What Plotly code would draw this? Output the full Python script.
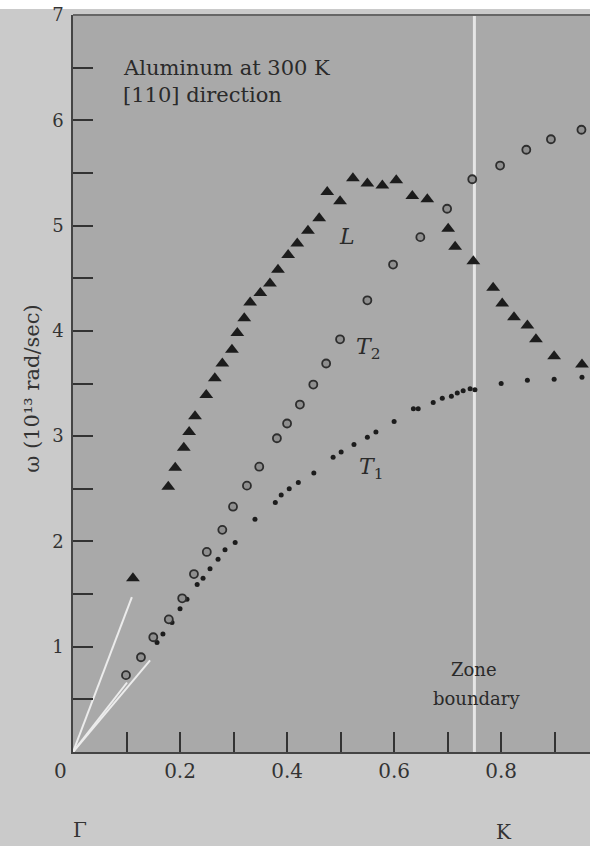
import plotly.graph_objects as go

# ---- data (q in units of 2π/a, ω in 10^13 rad/s) ----
L_q = [0.112, 0.178, 0.191, 0.207, 0.217, 0.228, 0.249, 0.265, 0.279, 0.297, 0.307, 0.320,
       0.331, 0.350, 0.368, 0.383, 0.402, 0.419, 0.439, 0.460, 0.475, 0.499, 0.523, 0.550,
       0.578, 0.604, 0.634, 0.662, 0.701, 0.714, 0.748, 0.785, 0.802, 0.824, 0.849, 0.865,
       0.899, 0.951]
L_w = [1.65, 2.52, 2.70, 2.89, 3.04, 3.19, 3.39, 3.55, 3.69, 3.82, 3.98, 4.12,
       4.27, 4.36, 4.45, 4.58, 4.72, 4.83, 4.95, 5.07, 5.32, 5.23, 5.45, 5.40,
       5.38, 5.43, 5.28, 5.25, 4.97, 4.80, 4.66, 4.41, 4.26, 4.13, 4.05, 3.92,
       3.76, 3.68]

T2_q = [0.099, 0.127, 0.150, 0.179, 0.204, 0.226, 0.250, 0.279, 0.299, 0.325, 0.348, 0.381,
        0.400, 0.424, 0.449, 0.473, 0.499, 0.550, 0.598, 0.649, 0.699, 0.746, 0.798, 0.847,
        0.893, 0.950]
T2_w = [0.73, 0.90, 1.09, 1.26, 1.46, 1.69, 1.90, 2.11, 2.33, 2.53, 2.71, 2.98,
        3.12, 3.30, 3.49, 3.69, 3.92, 4.29, 4.63, 4.89, 5.16, 5.44, 5.57, 5.72,
        5.82, 5.91]

T1_q = [0.157, 0.168, 0.185, 0.200, 0.213, 0.232, 0.243, 0.256, 0.271, 0.284, 0.303, 0.340,
        0.378, 0.389, 0.404, 0.421, 0.450, 0.486, 0.501, 0.525, 0.550, 0.566, 0.600, 0.636,
        0.645, 0.673, 0.690, 0.707, 0.718, 0.729, 0.742, 0.751, 0.800, 0.849, 0.899, 0.951]
T1_w = [1.04, 1.12, 1.23, 1.36, 1.45, 1.59, 1.65, 1.74, 1.83, 1.92, 1.99, 2.21,
        2.37, 2.44, 2.50, 2.56, 2.65, 2.80, 2.85, 2.92, 2.99, 3.04, 3.14, 3.26,
        3.26, 3.32, 3.36, 3.38, 3.41, 3.43, 3.45, 3.44, 3.50, 3.53, 3.54, 3.56]

# sound-velocity guide lines from the origin
sound_L_q = [0.0, 0.110]
sound_L_w = [0.0, 1.47]
sound_T_q = [0.0, 0.144]
sound_T_w = [0.0, 0.87]
sound_T2_q = [0.0, 0.101]
sound_T2_w = [0.0, 0.66]

zone_boundary = 0.75
x_ticks = [0.2, 0.4, 0.6, 0.8]
x_tick_labels = ["0.2", "0.4", "0.6", "0.8"]
y_ticks = [1, 2, 3, 4, 5, 6, 7]
y_tick_labels = ["1", "2", "3", "4", "5", "6", "7"]

SERIF = "DejaVu Serif, Liberation Serif, serif"
INK = "#1c1c1c"
TXT = "#2a2a2a"
PAPER = "#cacaca"
PLOT = "#a9a9a9"

fig = go.Figure()

for qs, ws in [(sound_L_q, sound_L_w), (sound_T_q, sound_T_w), (sound_T2_q, sound_T2_w)]:
    fig.add_trace(go.Scatter(x=qs, y=ws, mode="lines",
                             line=dict(color="#ececec", width=2), hoverinfo="skip",
                             showlegend=False))

fig.add_trace(go.Scatter(x=[zone_boundary, zone_boundary], y=[0, 7], mode="lines",
                         line=dict(color="#e6e6e6", width=3), showlegend=False,
                         hoverinfo="skip"))

fig.add_trace(go.Scatter(x=T1_q, y=T1_w, mode="markers", name="T1",
                         marker=dict(symbol="circle", size=5, color=INK),
                         showlegend=False))
fig.add_trace(go.Scatter(x=T2_q, y=T2_w, mode="markers", name="T2",
                         marker=dict(symbol="circle", size=8, color="#8f8f8f",
                                     line=dict(width=1.8, color="#2e2e2e")),
                         showlegend=False))
fig.add_trace(go.Scatter(x=L_q, y=L_w, mode="markers", name="L",
                         marker=dict(symbol="triangle-up", size=12, color=INK),
                         showlegend=False))

ann = [
    dict(x=0.09, y=6.50, text="Aluminum at 300 K", xanchor="left", yanchor="middle",
         showarrow=False, font=dict(family=SERIF, size=21, color=TXT)),
    dict(x=0.09, y=6.24, text="[110] direction", xanchor="left", yanchor="middle",
         showarrow=False, font=dict(family=SERIF, size=21, color=TXT)),
    dict(x=0.512, y=4.90, text="<i>L</i>", showarrow=False,
         font=dict(family=SERIF, size=22, color=TXT)),
    dict(x=0.552, y=3.83, text="<i>T</i><sub>2</sub>", showarrow=False,
         font=dict(family=SERIF, size=22, color=TXT)),
    dict(x=0.557, y=2.69, text="<i>T</i><sub>1</sub>", showarrow=False,
         font=dict(family=SERIF, size=22, color=TXT)),
    dict(x=0.749, y=0.78, text="Zone", showarrow=False,
         font=dict(family=SERIF, size=18, color=TXT)),
    dict(x=0.753, y=0.51, text="boundary", showarrow=False,
         font=dict(family=SERIF, size=18, color=TXT)),
    dict(x=0.0, y=0, text="0", showarrow=False, xshift=-13, yshift=-19,
         font=dict(family=SERIF, size=20, color="#333333")),
    dict(x=0.0, y=0, text="Γ", showarrow=False, xshift=7, yshift=-78,
         font=dict(family=SERIF, size=20, color="#333333")),
    dict(x=0.8, y=0, text="K", showarrow=False, xshift=3, yshift=-80,
         font=dict(family=SERIF, size=20, color="#333333")),
    dict(x=-41 / 517, xref="paper", xanchor="center", yanchor="middle", y=3.45,
         text="ω (10¹³ rad/sec)", textangle=-90,
         showarrow=False, font=dict(family=SERIF, size=21, color="#333333")),
]

top_white = 1 + 6 / 737

fig.update_layout(
    width=590, height=846,
    margin=dict(l=73, r=0, t=15, b=94),
    paper_bgcolor="white",
    plot_bgcolor=PLOT,
    annotations=ann,
    xaxis=dict(range=[0, 0.966], tickvals=x_ticks, ticktext=x_tick_labels,
               ticks="inside", ticklen=20, tickwidth=1.5, tickcolor="#333333",
               minor=dict(dtick=0.1, tick0=0, ticks="inside", ticklen=20,
                          tickwidth=1.5, tickcolor="#333333"),
               showgrid=False, zeroline=False, showline=True, linecolor="#444444",
               linewidth=1.5, mirror=False,
               tickfont=dict(family=SERIF, size=20, color="#333333")),
    yaxis=dict(range=[0, 7], tickvals=y_ticks, ticktext=y_tick_labels,
               ticks="inside", ticklen=20, tickwidth=1.5, tickcolor="#333333",
               minor=dict(dtick=0.5, tick0=0, ticks="inside", ticklen=20,
                          tickwidth=1.5, tickcolor="#333333"),
               showgrid=False, zeroline=False, showline=True, linecolor="#444444",
               linewidth=1.5, ticklabelstandoff=4,
               tickfont=dict(family=SERIF, size=18, color="#333333")),
    shapes=[
        dict(type="rect", xref="paper", yref="paper", x0=-0.2, x1=1.05,
             y0=-0.2, y1=top_white, fillcolor=PAPER, line=dict(width=0),
             layer="below"),
        dict(type="rect", xref="paper", yref="paper", x0=0, x1=1, y0=0, y1=1,
             fillcolor=PLOT, line=dict(width=0), layer="below"),
        dict(type="line", xref="paper", yref="paper", x0=0, x1=1, y0=1, y1=1,
             line=dict(color="#666666", width=2)),
    ],
)

fig.write_html("out.html",
               config={"displayModeBar": False},
               post_script="document.body.style.margin='0px';"
                           "document.body.style.overflow='hidden';")
